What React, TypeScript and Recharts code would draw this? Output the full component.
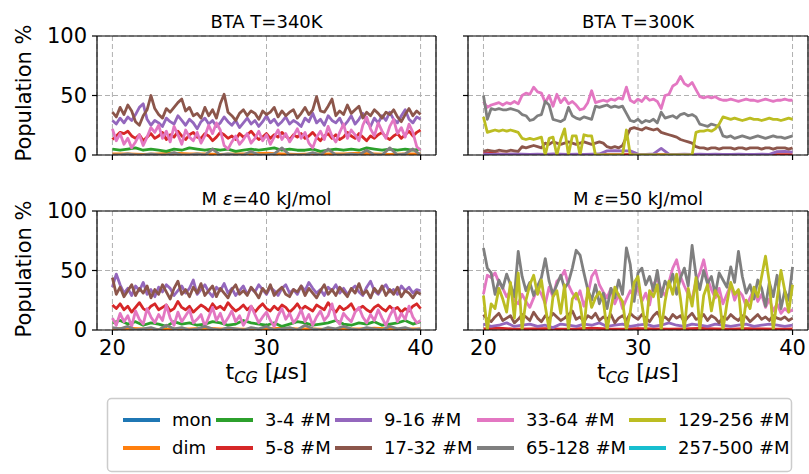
import React from 'react';
import { LineChart, Line, XAxis, YAxis, CartesianGrid, ReferenceLine } from 'recharts';

// Time window of every trace (µs); each series is sampled uniformly across it.
const T_START = 20;
const T_END = 40;
const X_DOMAIN: [number, number] = [19, 41];
const X_TICKS = [20, 30, 40];
const Y_TICKS = [0, 50, 100];

// Aggregate size classes and their colours.
const SIZE_CLASSES = [
  'mon', 'dim', '3-4 #M', '5-8 #M', '9-16 #M',
  '17-32 #M', '33-64 #M', '65-128 #M', '129-256 #M', '257-500 #M',
];
const CLASS_COLORS = [
  '#1f77b4', '#ff7f0e', '#2ca02c', '#d62728', '#9467bd',
  '#8c564b', '#e377c2', '#7f7f7f', '#bcbd22', '#17becf',
];

// ---- BTA T=340K ----
const bta340Mon = [0.3, 0.5, 0.2, 0.4, 0.3, 0.5, 0.2, 0.3, 0.4, 0.2, 0.3, 0.5, 0.3, 0.2, 0.4, 0.3, 0.2, 0.4, 0.3, 0.2, 0.3];
const bta340Dim = [1, 1, 0.5, 1, 1.5, 1, 1, 0.5, 1, 1, 1.5, 1, 0.5, 1, 1, 1, 1.5, 1, 0.5, 1, 1];
const bta340C3 = [5, 4, 5, 6, 4, 5, 4, 3, 5, 4, 6, 5, 4, 5, 4, 5, 3, 4, 5, 4, 5, 6, 4, 5, 4, 4, 5, 3, 4, 5, 4, 5, 4, 6, 5, 4, 5, 4, 5, 4, 5];
const bta340C5 = [
  13, 16, 19, 18, 20, 16, 14, 17, 12, 15,
  18, 14, 16, 19, 13, 17, 15, 20, 16, 13,
  17, 19, 15, 14, 18, 16, 12, 15, 19, 17,
  14, 16, 13, 18, 15, 17, 20, 16, 13, 15,
  18, 14, 17, 15, 19, 16, 13, 17, 15, 18,
  14, 16, 19, 15, 12, 16, 18, 14, 17, 13,
  15, 19, 16, 14, 18, 15, 12, 16, 14, 17,
  19, 15, 13, 16, 18, 14, 17, 20, 16, 19,
  21,
];
const bta340C9 = [
  29, 26, 31, 27, 32, 29, 34, 40, 43, 30,
  25, 29, 27, 24, 31, 28, 26, 33, 29, 25,
  30, 27, 22, 28, 31, 26, 29, 24, 27, 32,
  28, 25, 29, 23, 27, 31, 26, 29, 24, 28,
  33, 27, 30, 25, 28, 32, 26, 29, 27, 24,
  31, 28, 35, 27, 30, 25, 33, 29, 27, 31,
  24, 28, 33, 26, 30, 35, 28, 24, 31, 27,
  33, 29, 36, 30, 27, 33, 38, 30, 27, 32,
  30,
];
const bta340C17 = [
  36, 32, 40, 34, 42, 37, 28, 25, 33, 38,
  50, 39, 34, 31, 39, 36, 40, 44, 47, 37,
  40, 33, 35, 31, 40, 33, 38, 31, 43, 51,
  36, 33, 29, 35, 38, 33, 37, 35, 30, 37,
  34, 36, 40, 32, 37, 33, 36, 38, 31, 35,
  40, 34, 38, 49, 37, 36, 41, 47, 33, 37,
  34, 42, 35, 38, 41, 31, 36, 33, 38, 35,
  31, 36, 34, 38, 32, 28, 34, 39, 33, 37,
  34,
];
const bta340C33 = [
  22, 12, 18, 9, 14, 6, 11, 17, 8, 15,
  23, 19, 25, 14, 20, 11, 24, 17, 9, 21,
  15, 12, 19, 10, 16, 25, 18, 27, 21, 8,
  5, 11, 16, 9, 13, 18, 10, 14, 20, 12,
  17, 9, 15, 21, 13, 18, 11, 16, 22, 14,
  19, 10, 6, 15, 20, 13, 24, 16, 11, 19,
  26, 14, 21, 17, 12, 25, 32, 22, 16, 27,
  20, 14, 24, 30, 18, 23, 15, 26, 19, 7,
  4,
];
const bta340C65 = [0, 0, 1, 0, 0, 1, 0, 0, 2, 0, 0, 1, 0, 5, 0, 1, 0, 0, 3, 0, 0, 1, 6, 0, 0, 0, 2, 0, 5, 0, 0, 1, 0, 4, 0, 0, 6, 0, 1, 5, 0];

// ---- BTA T=300K ----
const bta300C5 = [2, 1, 0.5, 0.5, 0.3, 0.5, 0.3, 0.5, 0.3, 0.3, 0.5, 0.3, 0.3, 0.2, 0.3, 0.3, 0.2, 0.3, 0.2, 0.3, 0.2];
const bta300C9 = [
  1, 0.5, 0.8, 0.6, 1, 0.7, 0.5, 0.8, 0.6, 0.9,
  0.7, 0.5, 0.8, 0.6, 0.7, 0.9, 3.5, 3.6, 3.4, 3.5,
  0.8, 0.6, 0.9, 5.5, 0.7, 0.6, 0.8, 0.5, 0.7, 0.6,
  0.8, 0.5, 0.6, 0.7, 0.5, 0.6, 0.8, 0.6, 2.8, 3,
  2.5,
];
const bta300C17 = [
  3, 4, 3.5, 3, 4, 3.5, 3, 4, 3.5, 3,
  7, 6, 7, 8, 7, 6, 10, 9, 11, 10,
  9, 10, 11, 10, 9, 10, 11, 10, 9, 10,
  11, 10, 7, 6, 7, 6, 8, 15, 22, 23,
  22, 21, 23, 22, 21, 22, 19, 18, 17, 16,
  15, 13, 12, 11, 10, 7, 6, 6, 5, 6,
  6, 5, 6, 6, 6, 5, 6, 6, 5, 6,
  6, 6, 5, 6, 6, 5, 6, 6, 6, 5,
  6,
];
const bta300C33 = [
  45, 40, 42, 43, 44, 42, 44, 43, 45, 43,
  50, 52, 51, 57, 53, 52, 44, 50, 41, 51,
  44, 48, 43, 45, 42, 38, 39, 44, 54, 44,
  45, 46, 45, 47, 46, 48, 47, 57, 46, 44,
  47, 45, 49, 46, 47, 45, 39, 50, 51, 58,
  60, 66, 60, 58, 61, 55, 49, 48, 49, 48,
  49, 47, 46, 46, 47, 46, 45, 46, 47, 46,
  46, 45, 46, 47, 46, 45, 46, 46, 47, 46,
  46,
];
const bta300C65 = [
  50, 30, 39, 38, 39, 38, 38, 39, 38, 37,
  34, 33, 29, 30, 33, 34, 45, 42, 30, 29,
  28, 30, 40, 33, 31, 30, 32, 31, 30, 41,
  40, 41, 42, 40, 41, 40, 41, 35, 29, 28,
  30, 27, 29, 28, 30, 27, 36, 31, 32, 33,
  31, 34, 35, 33, 34, 32, 26, 25, 24, 26,
  25, 24, 16, 15, 16, 14, 15, 16, 15, 14,
  15, 16, 15, 14, 15, 16, 15, 15, 14, 15,
  16,
];
const bta300C129 = [
  32, 19, 20, 21, 20, 21, 20, 21, 20, 19,
  14, 13, 14, 13, 14, 15, 0, 14, 15, 0,
  13, 22, 0, 16, 16, 0, 17, 16, 16, 0,
  0, 0, 0, 0, 0, 0, 0, 21, 0, 0,
  0, 0, 0, 0, 0, 0, 0, 0, 0, 0,
  0, 0, 0, 0, 0, 19, 20, 20, 21, 20,
  22, 26, 32, 31, 30, 31, 30, 29, 30, 31,
  30, 30, 29, 30, 31, 30, 30, 29, 30, 31,
  30,
];

// ---- M ε=40 kJ/mol ----
const m40Mon = [0.4, 0.2, 0.3, 0.5, 0.2, 0.3, 0.4, 0.2, 0.3, 0.5, 0.3, 0.2, 0.4, 0.3, 0.2, 0.3, 0.5, 0.2, 0.3, 0.4, 0.3];
const m40Dim = [1, 1.5, 1, 0.5, 1, 1, 1.5, 1, 1, 0.5, 1, 1.5, 1, 1, 0.5, 1, 1, 1.5, 1, 1, 1];
const m40C3 = [6, 8, 5, 7, 4, 6, 5, 3, 7, 5, 6, 4, 5, 7, 6, 4, 5, 8, 6, 5, 4, 6, 3, 5, 7, 6, 4, 5, 6, 8, 5, 4, 6, 5, 7, 4, 5, 6, 8, 5, 7];
const m40C5 = [
  21, 18, 22, 17, 20, 15, 19, 23, 18, 16,
  20, 22, 17, 19, 21, 16, 18, 24, 19, 17,
  20, 15, 18, 21, 19, 16, 22, 18, 20, 17,
  23, 19, 16, 18, 21, 17, 20, 15, 19, 22,
  18, 16, 20, 17, 21, 19, 15, 18, 22, 17,
  20, 18, 16, 21, 19, 17, 23, 18, 15, 20,
  17, 19, 22, 16, 18, 20, 17, 15, 19, 21,
  18, 16, 20, 17, 19, 15, 18, 16, 20, 22,
  18,
];
const m40C9 = [
  36, 47, 38, 31, 35, 29, 37, 33, 40, 30,
  34, 28, 36, 32, 38, 35, 29, 33, 37, 31,
  35, 42, 30, 34, 38, 32, 28, 36, 33, 39,
  31, 35, 29, 33, 37, 30, 35, 32, 38, 34,
  30, 36, 33, 29, 35, 38, 31, 34, 30, 37,
  33, 40, 35, 31, 34, 29, 36, 33, 38, 31,
  35, 30, 34, 37, 32, 29, 36, 41, 33, 30,
  35, 38, 32, 34, 30, 37, 33, 36, 31, 34,
  33,
];
const m40C17 = [
  44, 30, 36, 28, 33, 38, 29, 35, 31, 37,
  27, 34, 30, 38, 32, 26, 35, 41, 30, 34,
  28, 36, 31, 39, 29, 33, 37, 28, 35, 31,
  27, 34, 38, 30, 33, 29, 36, 32, 27, 35,
  31, 38, 29, 33, 36, 30, 28, 34, 32, 37,
  29, 35, 31, 27, 33, 38, 30, 34, 29, 36,
  32, 28, 35, 31, 39, 30, 33, 27, 35, 31,
  37, 29, 34, 30, 36, 28, 33, 31, 27, 32,
  30,
];
const m40C33 = [
  10, 4, 14, 7, 12, 3, 16, 9, 5, 18,
  11, 6, 13, 8, 21, 10, 4, 15, 7, 12,
  17, 6, 9, 13, 3, 11, 19, 8, 14, 5,
  10, 16, 7, 12, 4, 9, 20, 13, 6, 11,
  15, 8, 3, 12, 18, 9, 14, 6, 10, 17,
  7, 13, 4, 11, 16, 8, 12, 22, 9, 5,
  14, 10, 7, 15, 19, 11, 6, 13, 8, 17,
  10, 4, 12, 18, 7, 14, 9, 20, 11, 6,
  8,
];
const m40C65 = [2, 1, 3, 0, 1, 2, 0, 4, 1, 2, 0, 1, 3, 1, 0, 2, 1, 0, 2, 1, 3, 0, 1, 2, 0, 4, 1, 0, 2, 1, 3, 1, 0, 2, 1, 0, 3, 1, 2, 0, 1];

// ---- M ε=50 kJ/mol ----
const m50C5 = [1, 1.5, 0.8, 1, 1.2, 0.8, 1, 1.5, 1, 0.8, 1.2, 1, 0.8, 1, 1.3, 1, 0.8, 1.2, 1, 0.8, 1];
const m50C9 = [
  5, 3, 4, 6, 3, 4, 5, 3, 4, 2,
  5, 4, 3, 5, 4, 6, 3, 4, 5, 3,
  4, 5, 3, 4, 6, 4, 3, 5, 4, 3,
  5, 4, 3, 4, 5, 3, 4, 5, 4, 3,
  4,
];
const m50C17 = [
  13, 9, 7, 11, 14, 8, 10, 12, 6, 9,
  13, 11, 8, 15, 10, 7, 12, 9, 14, 11,
  8, 10, 13, 16, 9, 11, 7, 12, 10, 14,
  8, 11, 9, 13, 6, 10, 12, 8, 14, 11,
  9, 13, 10, 7, 12, 15, 9, 11, 8, 13,
  10, 12, 7, 11, 14, 9, 10, 13, 8, 12,
  10, 6, 11, 9, 13, 10, 8, 12, 11, 7,
  10, 13, 9, 11, 8, 12, 10, 9, 11, 8,
  10,
];
const m50C33 = [
  30, 46, 44, 48, 40, 35, 28, 33, 25, 22,
  30, 24, 19, 27, 35, 30, 22, 36, 28, 41,
  44, 50, 38, 31, 26, 33, 20, 29, 45, 50,
  38, 32, 27, 35, 22, 30, 18, 26, 33, 28,
  36, 24, 31, 21, 38, 44, 33, 29, 40, 52,
  59, 45, 37, 30, 26, 41, 48, 59, 43, 34,
  27, 35, 22, 30, 38, 25, 33, 29, 20, 27,
  34, 24, 30, 19, 26, 16, 22, 14, 18, 15,
  17,
];
const m50C65 = [
  69, 52, 48, 30, 42, 35, 47, 38, 28, 66,
  45, 33, 40, 29, 37, 44, 60, 41, 30, 38,
  46, 35, 40, 52, 67, 63, 48, 34, 25, 38,
  22, 31, 18, 35, 27, 42, 30, 69, 55, 24,
  48, 52, 38, 45, 33, 50, 28, 41, 36, 47,
  30, 44, 52, 37, 71, 46, 34, 50, 39, 45,
  30, 48, 42, 36, 53, 40, 66, 45, 31, 38,
  26, 42, 35, 20, 40, 28, 46, 18, 33, 25,
  53,
];
const m50C129 = [
  29, 0, 22, 18, 35, 26, 15, 40, 10, 48,
  0, 25, 38, 46, 30, 42, 20, 0, 28, 33,
  14, 38, 0, 26, 31, 22, 0, 35, 19, 27,
  32, 25, 0, 18, 36, 29, 24, 0, 15, 40,
  45, 22, 0, 33, 28, 38, 0, 24, 41, 30,
  47, 26, 0, 35, 20, 44, 0, 29, 38, 16,
  33, 27, 0, 22, 40, 30, 34, 0, 25, 18,
  36, 28, 45, 62, 40, 0, 26, 50, 33, 15,
  38,
];

type Trace = { cls: number; values: number[] };

const PANEL_BTA340: Trace[] = [
  { cls: 0, values: bta340Mon }, { cls: 1, values: bta340Dim }, { cls: 2, values: bta340C3 },
  { cls: 3, values: bta340C5 }, { cls: 4, values: bta340C9 }, { cls: 5, values: bta340C17 },
  { cls: 6, values: bta340C33 }, { cls: 7, values: bta340C65 },
];
const PANEL_BTA300: Trace[] = [
  { cls: 3, values: bta300C5 }, { cls: 4, values: bta300C9 }, { cls: 5, values: bta300C17 },
  { cls: 6, values: bta300C33 }, { cls: 7, values: bta300C65 }, { cls: 8, values: bta300C129 },
];
const PANEL_M40: Trace[] = [
  { cls: 0, values: m40Mon }, { cls: 1, values: m40Dim }, { cls: 2, values: m40C3 },
  { cls: 3, values: m40C5 }, { cls: 4, values: m40C9 }, { cls: 5, values: m40C17 },
  { cls: 6, values: m40C33 }, { cls: 7, values: m40C65 },
];
const PANEL_M50: Trace[] = [
  { cls: 3, values: m50C5 }, { cls: 4, values: m50C9 }, { cls: 5, values: m50C17 },
  { cls: 6, values: m50C33 }, { cls: 7, values: m50C65 }, { cls: 8, values: m50C129 },
];

const FONT = '"DejaVu Sans", sans-serif';

function toPoints(values: number[]) {
  const step = (T_END - T_START) / (values.length - 1);
  return values.map((v, i) => ({ t: T_START + i * step, v }));
}

// Axis band sizes reserved inside each chart's margin.
const Y_AXIS_W = 60;
const X_AXIS_H = 22;

type PanelProps = {
  traces: Trace[];
  left: number;
  top: number;
  width: number;
  height: number;
  plotLeft: number;
  plotTop: number;
  plotRight: number;
  plotBottom: number;
  xLabels: boolean;
  yLabels: boolean;
};

const tickStyle = { fontSize: 21, fill: '#000', fontFamily: FONT };
const spine = { stroke: '#000', strokeWidth: 1.2 };

function HiddenTick() {
  return <g />;
}

function Panel({ traces, left, top, width, height, plotLeft, plotTop, plotRight, plotBottom, xLabels, yLabels }: PanelProps) {
  const margin = {
    top: plotTop,
    left: plotLeft - Y_AXIS_W,
    right: width - plotRight,
    bottom: height - plotBottom - X_AXIS_H,
  };
  return (
    <div style={{ position: 'absolute', left, top }}>
      <LineChart width={width} height={height} margin={margin}>
        <CartesianGrid stroke="#b0b0b0" strokeDasharray="5 3" strokeWidth={1} />
        {traces.map((tr) => (
          <Line
            key={tr.cls}
            data={toPoints(tr.values)}
            dataKey="v"
            type="linear"
            stroke={CLASS_COLORS[tr.cls]}
            strokeWidth={2.8}
            strokeLinejoin="round"
            dot={false}
            activeDot={false}
            isAnimationActive={false}
          />
        ))}
        <ReferenceLine y={100} stroke="#000" strokeWidth={1.2} />
        <ReferenceLine x={X_DOMAIN[1]} stroke="#000" strokeWidth={1.2} />
        <XAxis
          type="number"
          dataKey="t"
          domain={X_DOMAIN}
          ticks={X_TICKS}
          allowDataOverflow
          height={X_AXIS_H}
          tickSize={5}
          tickMargin={5}
          tick={xLabels ? tickStyle : HiddenTick}
          axisLine={spine}
          tickLine={spine}
        />
        <YAxis
          type="number"
          domain={[0, 100]}
          ticks={Y_TICKS}
          allowDataOverflow
          width={Y_AXIS_W}
          tickSize={5}
          tickMargin={5}
          tick={yLabels ? tickStyle : HiddenTick}
          axisLine={spine}
          tickLine={spine}
        />
      </LineChart>
    </div>
  );
}

const LEGEND_HANDLE_X = [123, 216, 335, 477, 629];
const LEGEND_ROW_Y = [420, 448];

function XLabel({ x }: { x: number }) {
  return (
    <text x={x} y={379} textAnchor="middle" fontSize={22} fontFamily={FONT} fill="#000">
      t<tspan fontSize={16} fontStyle="italic" dy={4}>CG</tspan>
      <tspan dy={-4}> [</tspan>
      <tspan fontStyle="italic">μ</tspan>s]
    </text>
  );
}

function YLabel({ y }: { y: number }) {
  return (
    <text x={31} y={y} transform={`rotate(-90, 31, ${y})`} textAnchor="middle" fontSize={21} fontFamily={FONT} fill="#000">
      Population %
    </text>
  );
}

export default function App() {
  return (
    <div style={{ position: 'absolute', left: 0, top: 0, width: 809, height: 474, background: '#fff', overflow: 'hidden' }}>
      <Panel traces={PANEL_BTA340} left={0} top={0} width={450} height={185}
        plotLeft={97} plotTop={36} plotRight={436} plotBottom={155} xLabels={false} yLabels />
      <Panel traces={PANEL_BTA300} left={400} top={0} width={409} height={185}
        plotLeft={68} plotTop={36} plotRight={408} plotBottom={155} xLabels={false} yLabels={false} />
      <Panel traces={PANEL_M40} left={0} top={175} width={450} height={190}
        plotLeft={97} plotTop={36} plotRight={436} plotBottom={155} xLabels yLabels />
      <Panel traces={PANEL_M50} left={400} top={175} width={409} height={190}
        plotLeft={68} plotTop={36} plotRight={408} plotBottom={155} xLabels yLabels={false} />

      <svg width={809} height={474} style={{ position: 'absolute', left: 0, top: 0, pointerEvents: 'none' }}>
        <g fontFamily={FONT} fill="#000">
          <text x={266.5} y={28} textAnchor="middle" fontSize={18}>BTA T=340K</text>
          <text x={638} y={28} textAnchor="middle" fontSize={18}>BTA T=300K</text>
          <text x={266.5} y={204.5} textAnchor="middle" fontSize={18}>
            M <tspan fontStyle="italic">ε</tspan>=40 kJ/mol
          </text>
          <text x={638} y={204.5} textAnchor="middle" fontSize={18}>
            M <tspan fontStyle="italic">ε</tspan>=50 kJ/mol
          </text>
        </g>
        <YLabel y={93} />
        <YLabel y={269} />
        <XLabel x={266.5} />
        <XLabel x={638} />

        <rect x={107.5} y={398.5} width={684} height={73} rx={4} fill="#fff" stroke="#cccccc" strokeWidth={1.5} />
        {SIZE_CLASSES.map((name, i) => {
          const col = Math.floor(i / 2);
          const row = i % 2;
          const hx = LEGEND_HANDLE_X[col];
          const y = LEGEND_ROW_Y[row];
          return (
            <g key={name}>
              <line x1={hx} x2={hx + 37} y1={y} y2={y} stroke={CLASS_COLORS[i]} strokeWidth={4} />
              <text x={hx + 49} y={y} dy="0.36em" fontSize={18} fontFamily={FONT} fill="#000">
                {name}
              </text>
            </g>
          );
        })}
      </svg>
    </div>
  );
}
